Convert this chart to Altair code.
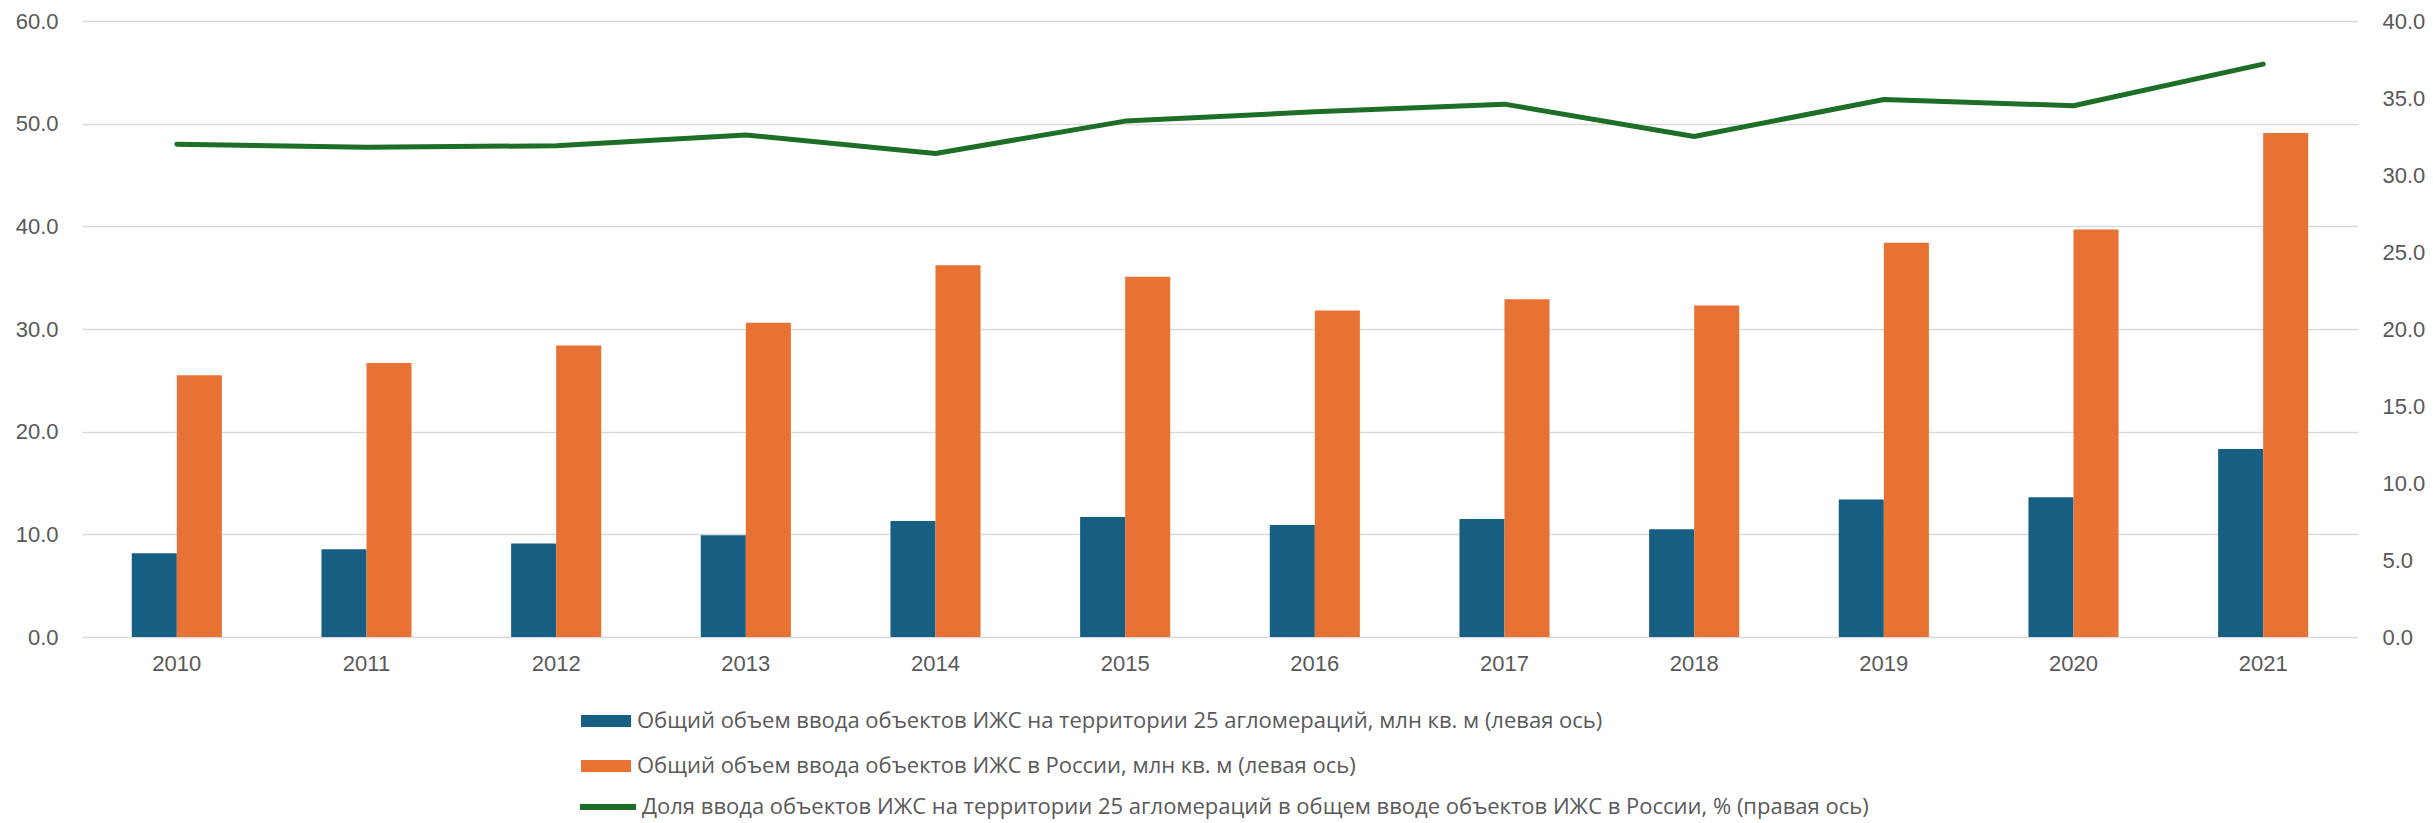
import altair as alt
import pandas as pd

years = ["2010", "2011", "2012", "2013", "2014", "2015", "2016", "2017", "2018", "2019", "2020", "2021"]
agglo = [8.15, 8.55, 9.1, 9.9, 11.3, 11.7, 10.9, 11.5, 10.5, 13.4, 13.6, 18.3]
russia = [25.5, 26.7, 28.4, 30.6, 36.2, 35.1, 31.8, 32.9, 32.3, 38.4, 39.7, 49.1]
share = [32.0, 31.8, 31.9, 32.6, 31.4, 33.5, 34.1, 34.6, 32.5, 34.9, 34.5, 37.2]

s_agglo = "Общий объем ввода объектов ИЖС на территории 25 агломераций, млн кв. м (левая ось)"
s_russia = "Общий объем ввода объектов ИЖС в России, млн кв. м (левая ось)"
s_share = "Доля ввода объектов ИЖС на территории 25 агломераций в общем вводе объектов ИЖС в России, % (правая ось)"

col_blue = "#175f82"
col_orange = "#e87234"
col_green = "#1d6e26"
txt = "#595959"
font = "Liberation Sans"
lfont = "Open Sans"

bars_df = pd.DataFrame({
    "year": years * 2,
    "value": agglo + russia,
    "series": [s_agglo] * len(years) + [s_russia] * len(years),
})
line_df = pd.DataFrame({"year": years, "share": share, "series": [s_share] * len(years)})

x_scale = alt.Scale(paddingInner=0.525, paddingOuter=0.2625)
x_axis = alt.Axis(labelAngle=0, ticks=False, domain=False, grid=False, labelPadding=16,
                  labelFont=font, labelFontSize=22, labelColor=txt, title=None)

bars = alt.Chart(bars_df).mark_bar().encode(
    x=alt.X("year:N", scale=x_scale, axis=x_axis, sort=years),
    xOffset=alt.XOffset("series:N", sort=[s_agglo, s_russia], scale=alt.Scale(paddingInner=0, paddingOuter=0)),
    y=alt.Y("value:Q", scale=alt.Scale(domain=[0, 60], nice=False),
            axis=alt.Axis(values=[0, 10, 20, 30, 40, 50, 60], format=".1f", grid=True,
                          gridColor="#d9d9d9", gridWidth=1.5, domain=False, ticks=False,
                          labelPadding=24, labelFont=font, labelFontSize=22, labelColor=txt,
                          title=None)),
    color=alt.Color("series:N", scale=alt.Scale(domain=[s_agglo, s_russia], range=[col_blue, col_orange]),
                    legend=alt.Legend(title=None, orient="none", legendX=499, legendY=675,
                                      direction="vertical", symbolType="M-1,-0.24H1V0.24H-1Z",
                                      symbolSize=2500, symbolStrokeWidth=0, labelFont=lfont,
                                      labelFontSize=22, labelColor=txt, labelOffset=6,
                                      rowPadding=9, labelLimit=0)),
)

line = alt.Chart(line_df).mark_line(strokeWidth=5, strokeCap="round", strokeJoin="round").encode(
    x=alt.X("year:N", scale=x_scale, axis=x_axis, sort=years),
    y=alt.Y("share:Q", scale=alt.Scale(domain=[0, 40], nice=False),
            axis=alt.Axis(orient="right", values=[0, 5, 10, 15, 20, 25, 30, 35, 40], format=".1f",
                          grid=False, domain=False, ticks=False, labelPadding=24, labelFont=font,
                          labelFontSize=22, labelColor=txt, title=None)),
    stroke=alt.Stroke("series:N", scale=alt.Scale(domain=[s_share], range=[col_green]),
                      legend=alt.Legend(title=None, orient="none", legendX=495, legendY=755,
                                        symbolType="stroke", symbolSize=3136, symbolStrokeWidth=6,
                                        labelFont=lfont, labelFontSize=22, labelColor=txt,
                                        labelOffset=3, labelLimit=0)),
)

chart = alt.layer(bars, line).resolve_scale(y="independent", color="independent").properties(
    width=2276, height=616,
    autosize=alt.AutoSizeParams(type="none"),
    padding={"left": 74, "top": 13, "right": 67, "bottom": 186},
).configure(background="white").configure_view(stroke=None)

chart.save("out.html", embed_options={"renderer": "svg", "actions": False})
